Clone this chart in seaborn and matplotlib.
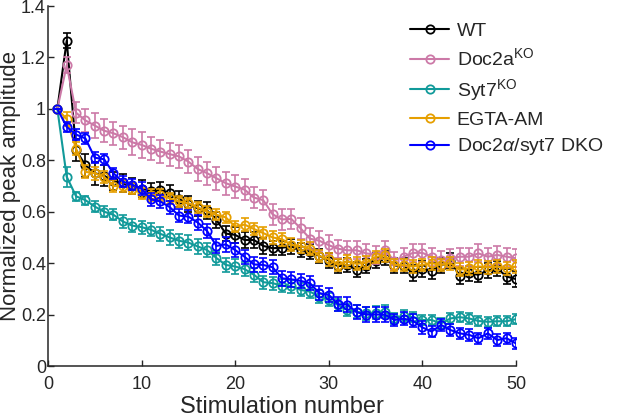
import numpy as np
import matplotlib
matplotlib.use("Agg")
import matplotlib.pyplot as plt
import seaborn as sns

# stimulation index and mean normalized amplitudes
stim = list(range(1, 51))

wt = [1.00, 1.265, 0.84, 0.78, 0.75, 0.74, 0.72, 0.71, 0.70, 0.69,
      0.68, 0.685, 0.672, 0.65, 0.63, 0.613, 0.605, 0.568, 0.515, 0.51,
      0.49, 0.49, 0.467, 0.458, 0.46, 0.465, 0.45, 0.445, 0.428, 0.41,
      0.388, 0.392, 0.375, 0.39, 0.41, 0.42, 0.39, 0.39, 0.362, 0.377,
      0.37, 0.39, 0.41, 0.35, 0.36, 0.355, 0.372, 0.38, 0.348, 0.338]
doc2a = [1.00, 1.17, 0.985, 0.955, 0.935, 0.915, 0.905, 0.89, 0.87, 0.86,
         0.845, 0.834, 0.824, 0.815, 0.795, 0.766, 0.75, 0.73, 0.711, 0.698,
         0.686, 0.655, 0.645, 0.59, 0.57, 0.572, 0.535, 0.495, 0.487, 0.47,
         0.456, 0.45, 0.45, 0.438, 0.433, 0.45, 0.41, 0.425, 0.44, 0.44,
         0.425, 0.412, 0.419, 0.425, 0.425, 0.438, 0.425, 0.432, 0.425, 0.419]
syt7 = [1.00, 0.736, 0.66, 0.645, 0.62, 0.60, 0.588, 0.562, 0.546, 0.54,
        0.53, 0.514, 0.50, 0.487, 0.48, 0.465, 0.451, 0.42, 0.393, 0.387,
        0.377, 0.355, 0.326, 0.322, 0.313, 0.31, 0.296, 0.289, 0.27, 0.257,
        0.237, 0.218, 0.211, 0.205, 0.208, 0.211, 0.186, 0.195, 0.19, 0.179,
        0.179, 0.165, 0.185, 0.19, 0.185, 0.175, 0.172, 0.174, 0.174, 0.182]
egta = [1.00, 0.96, 0.845, 0.755, 0.75, 0.735, 0.70, 0.70, 0.69, 0.67,
        0.665, 0.665, 0.652, 0.64, 0.633, 0.617, 0.60, 0.588, 0.578, 0.542,
        0.55, 0.533, 0.517, 0.50, 0.493, 0.471, 0.466, 0.456, 0.428, 0.415,
        0.393, 0.407, 0.397, 0.402, 0.424, 0.43, 0.393, 0.393, 0.387, 0.393,
        0.40, 0.393, 0.40, 0.374, 0.38, 0.387, 0.384, 0.387, 0.38, 0.387]
dko = [1.00, 0.93, 0.90, 0.885, 0.81, 0.804, 0.749, 0.717, 0.705, 0.69,
       0.648, 0.64, 0.618, 0.585, 0.581, 0.558, 0.525, 0.467, 0.473, 0.451,
       0.425, 0.395, 0.393, 0.384, 0.341, 0.337, 0.331, 0.322, 0.283, 0.276,
       0.24, 0.239, 0.209, 0.2, 0.2, 0.2, 0.179, 0.184, 0.176, 0.15,
       0.134, 0.16, 0.14, 0.127, 0.121, 0.108, 0.127, 0.101, 0.108, 0.088]

# SEM
wt_err = [0.0, 0.03, 0.042, 0.045, 0.045, 0.04, 0.035, 0.035, 0.032, 0.032,
          0.03, 0.03, 0.03, 0.03, 0.03, 0.03, 0.032, 0.03, 0.03, 0.03,
          0.03, 0.03, 0.03, 0.028, 0.028, 0.028, 0.028, 0.028, 0.028, 0.028,
          0.028, 0.028, 0.028, 0.028, 0.028, 0.028, 0.03, 0.03, 0.03, 0.03,
          0.03, 0.03, 0.03, 0.03, 0.03, 0.03, 0.03, 0.03, 0.03, 0.03]
doc2a_err = [0.0, 0.03, 0.04, 0.045, 0.05, 0.045, 0.045, 0.045, 0.05, 0.05,
             0.045, 0.045, 0.045, 0.045, 0.045, 0.045, 0.045, 0.045, 0.045, 0.045,
             0.04, 0.04, 0.04, 0.04, 0.04, 0.04, 0.04, 0.04, 0.038, 0.038,
             0.035, 0.035, 0.035, 0.035, 0.035, 0.035, 0.035, 0.035, 0.035, 0.035,
             0.035, 0.035, 0.035, 0.035, 0.035, 0.035, 0.035, 0.035, 0.035, 0.035]
syt7_err = [0.0, 0.038, 0.018, 0.018, 0.02, 0.022, 0.022, 0.025, 0.025, 0.025,
            0.025, 0.028, 0.028, 0.028, 0.028, 0.028, 0.028, 0.028, 0.028, 0.028,
            0.028, 0.028, 0.025, 0.025, 0.025, 0.025, 0.025, 0.025, 0.025, 0.025,
            0.025, 0.025, 0.025, 0.025, 0.025, 0.025, 0.022, 0.022, 0.02, 0.02,
            0.02, 0.02, 0.02, 0.02, 0.02, 0.02, 0.02, 0.02, 0.02, 0.02]
egta_err = [0.0, 0.026, 0.025, 0.025, 0.025, 0.025, 0.025, 0.025, 0.022, 0.022,
            0.022, 0.022, 0.022, 0.022, 0.022, 0.022, 0.022, 0.022, 0.022, 0.022,
            0.025, 0.025, 0.025, 0.025, 0.025, 0.025, 0.025, 0.025, 0.025, 0.025,
            0.025, 0.025, 0.025, 0.025, 0.025, 0.025, 0.025, 0.025, 0.025, 0.025,
            0.025, 0.025, 0.025, 0.025, 0.025, 0.025, 0.025, 0.025, 0.025, 0.025]
dko_err = [0.0, 0.02, 0.022, 0.022, 0.022, 0.022, 0.022, 0.022, 0.022, 0.025,
           0.025, 0.025, 0.025, 0.025, 0.025, 0.028, 0.028, 0.028, 0.028, 0.028,
           0.028, 0.028, 0.028, 0.028, 0.028, 0.028, 0.028, 0.028, 0.028, 0.028,
           0.028, 0.028, 0.028, 0.028, 0.028, 0.028, 0.025, 0.025, 0.025, 0.025,
           0.022, 0.022, 0.022, 0.022, 0.022, 0.022, 0.022, 0.022, 0.022, 0.02]

labels = ['WT', r'Doc2a$^{\mathrm{KO}}$', r'Syt7$^{\mathrm{KO}}$', 'EGTA-AM',
          r'Doc2$\alpha$/syt7 DKO']
colors = ['#000000', '#CC79A7', '#119A9A', '#E69F00', '#0000FF']
means = [wt, doc2a, syt7, egta, dko]
errs = [wt_err, doc2a_err, syt7_err, egta_err, dko_err]

sns.set_theme(style='ticks')
plt.rcParams['font.family'] = ['Liberation Sans', 'DejaVu Sans']
plt.rcParams['mathtext.fontset'] = 'custom'
plt.rcParams['mathtext.rm'] = 'Liberation Sans'
plt.rcParams['mathtext.it'] = 'Liberation Sans:italic'

fig = plt.figure(figsize=(6.34, 4.17), dpi=100)
ax = fig.add_axes([0.0757, 0.1223, 0.738, 0.8633])

for m, e, c, lab in zip(means, errs, colors, labels):
    ax.errorbar(stim, m, yerr=e, fmt='none', ecolor=c, elinewidth=1.2,
                capsize=3, capthick=1.2)
    sns.lineplot(x=stim, y=m, ax=ax, color=c, marker='o', markersize=6,
                 markerfacecolor='none', markeredgecolor=c, markeredgewidth=1.3,
                 linewidth=1.5, label=lab)

ax.set_xlim(0, 50)
ax.set_ylim(0, 1.4)
ax.set_xticks([0, 10, 20, 30, 40, 50])
ax.set_yticks([0, 0.2, 0.4, 0.6, 0.8, 1.0, 1.2, 1.4])
ax.yaxis.set_major_formatter(matplotlib.ticker.FormatStrFormatter('%g'))
ax.tick_params(direction='in', length=4, width=1, labelsize=13,
               colors='#262626')
ax.tick_params(axis='x', pad=7)
ax.tick_params(axis='y', pad=1.5)
for s in ['left', 'bottom']:
    ax.spines[s].set_linewidth(1.1)
    ax.spines[s].set_color('#262626')
sns.despine(ax=ax)

ax.set_xlabel('Stimulation number', fontsize=17, color='#262626', labelpad=2)
ax.set_ylabel('Normalized peak amplitude', fontsize=16, color='#262626')
ax.yaxis.set_label_coords(-0.058, 0.5)

ax.legend(loc='upper left', bbox_to_anchor=(0.774, 0.955), frameon=False,
          fontsize=14, handlelength=2.0, handletextpad=0.4, labelspacing=0.4,
          borderpad=0, borderaxespad=0)

fig.savefig('out.png', dpi=100)
